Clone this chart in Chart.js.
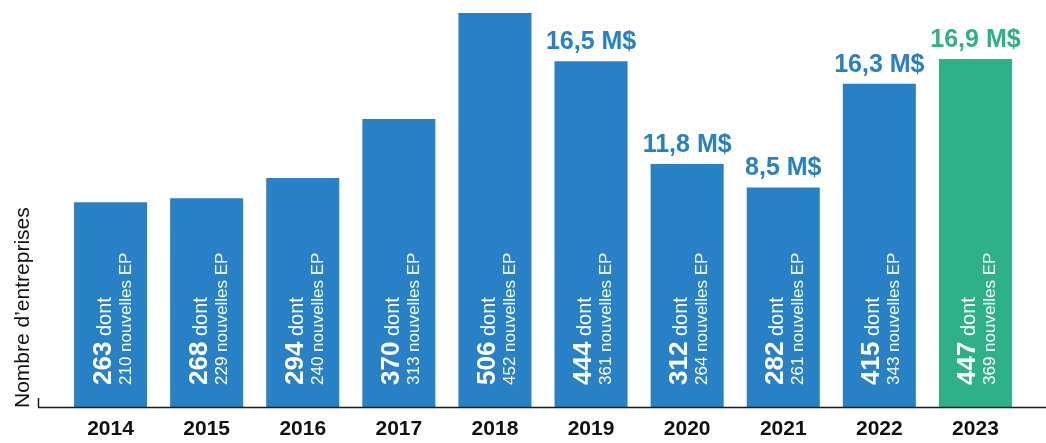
<!DOCTYPE html>
<html>
<head>
<meta charset="utf-8">
<script src="https://cdn.jsdelivr.net/npm/chart.js@4/dist/chart.umd.min.js"></script>
<style>
    html, body { margin: 0; padding: 0; background: #fff; }
    #wrap { width: 1046px; height: 443px; }
</style>
</head>
<body>
<div id="wrap"><canvas id="chartBarres"></canvas></div>
<script>
var annees = ['2014', '2015', '2016', '2017', '2018', '2019', '2020', '2021', '2022', '2023'];
var entreprises = [263, 268, 294, 370, 506, 444, 312, 282, 415, 447];
var nouvellesEP = [210, 229, 240, 313, 452, 361, 264, 261, 343, 369];
var montants = [null, null, null, null, null, 16.5, 11.8, 8.5, 16.3, 16.9];

var BLEU = '#2880c5';
var VERT = '#2eb189';
var POLICE = '"Liberation Sans", Arial, sans-serif';

var couleurs = annees.map(function (a, i) {
    return i === annees.length - 1 ? VERT : BLEU;
});

var etiquettes = {
    id: 'etiquettes',
    afterDatasetsDraw: function (chart) {
        var ctx = chart.ctx;
        var area = chart.chartArea;
        var bars = chart.getDatasetMeta(0).data;

        ctx.save();

        // ligne de base + petit trait
        ctx.strokeStyle = '#1a1a1a';
        ctx.lineWidth = 1.5;
        ctx.beginPath();
        ctx.moveTo(38, area.bottom + 0.5);
        ctx.lineTo(chart.width, area.bottom + 0.5);
        ctx.moveTo(38.5, area.bottom - 9);
        ctx.lineTo(38.5, area.bottom + 0.5);
        ctx.stroke();

        // titre de l'axe
        ctx.save();
        ctx.translate(29, area.bottom + 1);
        ctx.rotate(-Math.PI / 2);
        ctx.fillStyle = '#111';
        ctx.font = '21px ' + POLICE;
        ctx.textAlign = 'left';
        ctx.textBaseline = 'alphabetic';
        ctx.fillText('Nombre d\u2019entreprises', 0, 0);
        ctx.restore();

        bars.forEach(function (bar, i) {
            // montants au-dessus
            if (montants[i] !== null) {
                ctx.fillStyle = couleurs[i];
                ctx.font = 'bold 25px ' + POLICE;
                ctx.textAlign = 'center';
                ctx.textBaseline = 'alphabetic';
                var txt = montants[i].toFixed(1).replace('.', ',') + ' M$';
                ctx.fillText(txt, bar.x, bar.y - 12);
            }

            // texte vertical dans la barre
            ctx.save();
            ctx.translate(bar.x, area.bottom - 22);
            ctx.rotate(-Math.PI / 2);
            ctx.fillStyle = '#fff';
            ctx.textAlign = 'left';
            ctx.textBaseline = 'alphabetic';
            ctx.font = 'bold 26px ' + POLICE;
            var n = String(entreprises[i]);
            ctx.fillText(n, 0, 0);
            var w = ctx.measureText(n).width;
            ctx.font = '20px ' + POLICE;
            ctx.fillText(' dont', w, 0);
            ctx.font = '17px ' + POLICE;
            ctx.fillText(nouvellesEP[i] + ' nouvelles EP', 0, 20);
            ctx.restore();
        });

        ctx.restore();
    }
};

document.addEventListener('DOMContentLoaded', function () {
    new Chart(document.getElementById('chartBarres'), {
        type: 'bar',
        data: {
            labels: annees,
            datasets: [{
                data: entreprises,
                backgroundColor: couleurs,
                borderWidth: 0,
                barPercentage: 0.76,
                categoryPercentage: 1
            }]
        },
        options: {
            responsive: true,
            maintainAspectRatio: false,
            animation: false,
            layout: {
                padding: { left: 62.5, right: 22.5, top: 13, bottom: 1 }
            },
            plugins: {
                legend: { display: false },
                tooltip: { enabled: false }
            },
            scales: {
                x: {
                    grid: { display: false },
                    border: { display: false },
                    afterFit: function (scale) { scale.height = 35; },
                    ticks: {
                        color: '#111',
                        padding: 2,
                        font: { family: POLICE, size: 21, weight: 'bold' }
                    }
                },
                y: {
                    display: false,
                    min: 0,
                    max: 506
                }
            }
        },
        plugins: [etiquettes]
    });
});
</script>
</body>
</html>
